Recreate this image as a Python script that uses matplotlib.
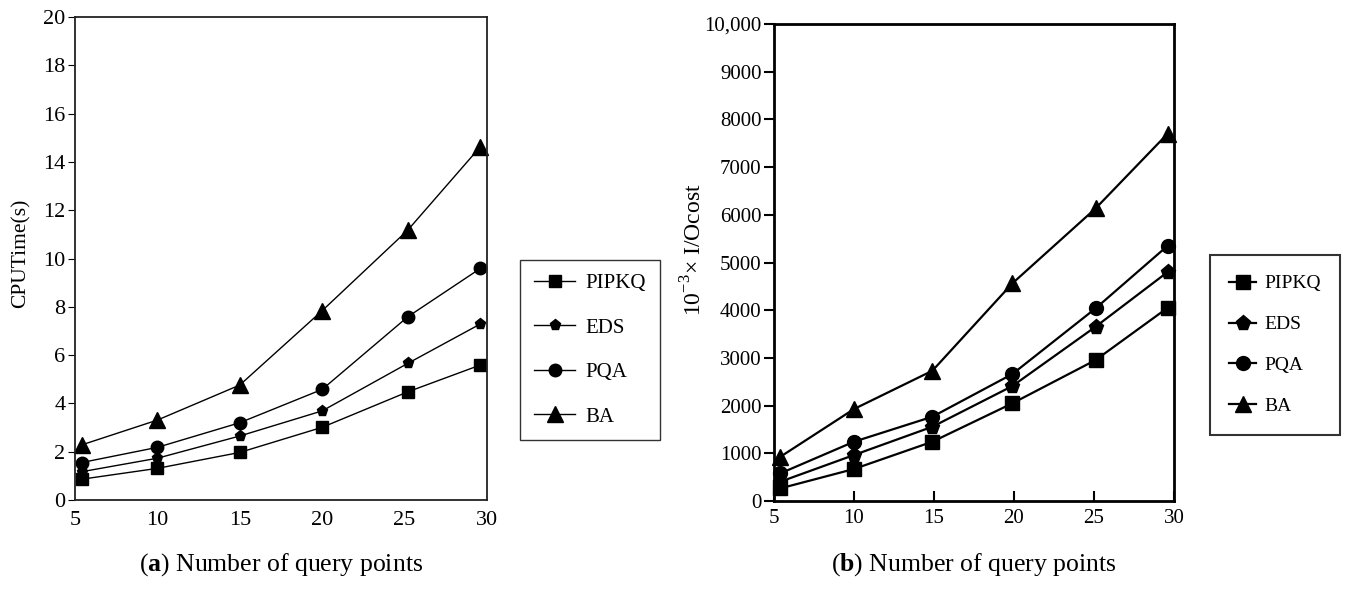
import matplotlib
matplotlib.use("Agg")
import matplotlib.pyplot as plt

plt.rcParams['font.family'] = ['Liberation Serif', 'DejaVu Serif']
plt.rcParams['mathtext.fontset'] = 'custom'
plt.rcParams['mathtext.rm'] = 'Liberation Serif'
plt.rcParams['mathtext.bf'] = 'Liberation Serif:bold'

W, H = 1346, 598

# (a) CPU time
x_a = [5.4, 10, 15, 20, 25.2, 29.6]
cpu_pipkq = [0.86, 1.31, 1.97, 3.01, 4.48, 5.59]
cpu_eds = [1.17, 1.73, 2.65, 3.69, 5.66, 7.29]
cpu_pqa = [1.55, 2.18, 3.2, 4.58, 7.59, 9.59]
cpu_ba = [2.28, 3.31, 4.76, 7.84, 11.18, 14.63]

# (b) I/O cost
x_b = [5.4, 10, 14.9, 19.9, 25.1, 29.6]
io_pipkq = [265, 671, 1243, 2048, 2955, 4050]
io_eds = [405, 964, 1557, 2410, 3654, 4800]
io_pqa = [580, 1243, 1767, 2662, 4039, 5350]
io_ba = [928, 1928, 2731, 4563, 6134, 7700]

labels = ["PIPKQ", "EDS", "PQA", "BA"]
markers = ["s", "p", "o", "^"]

fig = plt.figure(figsize=(W / 100, H / 100), dpi=100)

# ---- left panel
ax1 = fig.add_axes([75 / W, 1 - 500 / H, 412 / W, 483 / H])
sizes_a = [9, 8, 9, 12]
for ys, lab, m, ms in zip([cpu_pipkq, cpu_eds, cpu_pqa, cpu_ba], labels, markers, sizes_a):
    ax1.plot(x_a, ys, color='black', lw=1.0, marker=m, ms=ms, label=lab, clip_on=False)
ax1.set_xlim(5, 30)
ax1.set_ylim(0, 20)
ax1.set_xticks(range(5, 31, 5))
ax1.set_yticks(range(0, 21, 2))
ax1.tick_params(axis='y', direction='out', length=5, labelsize=16, pad=2)
ax1.tick_params(axis='x', length=0, labelsize=16, pad=8)
for s in ax1.spines.values():
    s.set_linewidth(1.3)
    s.set_color('#222222')
ax1.set_ylabel("CPUTime(s)", fontsize=15.5)
ax1.yaxis.set_label_coords(-0.107, 0.51)
leg1 = ax1.legend(loc='center', bbox_to_anchor=(590 / W, 1 - 350 / H),
                  bbox_transform=fig.transFigure, frameon=True, fancybox=False,
                  edgecolor='black', fontsize=15, handlelength=2.0,
                  labelspacing=1.2, borderpad=0.65, handletextpad=0.5,
                  borderaxespad=0)
leg1.get_frame().set_linewidth(1.0)

# ---- right panel
ax2 = fig.add_axes([774 / W, 1 - 501 / H, 400 / W, 477 / H])
sizes_b = [10, 11, 10, 11]
for ys, lab, m, ms in zip([io_pipkq, io_eds, io_pqa, io_ba], labels, markers, sizes_b):
    ax2.plot(x_b, ys, color='black', lw=1.6, marker=m, ms=ms, label=lab, clip_on=False)
ax2.set_xlim(5, 30)
ax2.set_ylim(0, 10000)
ax2.set_xticks(range(5, 31, 5))
ax2.set_yticks(range(0, 10001, 1000))
ax2.set_yticklabels([str(v) if v < 10000 else "10,000" for v in range(0, 10001, 1000)])
ax2.tick_params(axis='y', direction='out', length=7, width=1.5, labelsize=15, pad=2)
ax2.tick_params(axis='x', direction='in', length=7, width=1.5, labelsize=15, pad=6)
for s in ax2.spines.values():
    s.set_linewidth(2.0)
ax2.set_ylabel(r"$10^{-3}$" + "\u00d7 I/Ocost", fontsize=17)
ax2.yaxis.set_label_coords(-0.1675, 0.526)
leg2 = ax2.legend(loc='center', bbox_to_anchor=(1275 / W, 1 - 345 / H),
                  bbox_transform=fig.transFigure, frameon=True, fancybox=False,
                  edgecolor='black', fontsize=14, handlelength=1.4,
                  labelspacing=1.2, borderpad=1.0, handletextpad=0.4,
                  borderaxespad=0)
leg2.get_frame().set_linewidth(1.5)

# ---- captions
fig.text(281 / W, 1 - 565 / H, r"($\mathbf{a}$) Number of query points",
         ha='center', va='center', fontsize=18.5)
fig.text(974 / W, 1 - 565 / H, r"($\mathbf{b}$) Number of query points",
         ha='center', va='center', fontsize=18.5)

fig.savefig("out.png", dpi=100)
